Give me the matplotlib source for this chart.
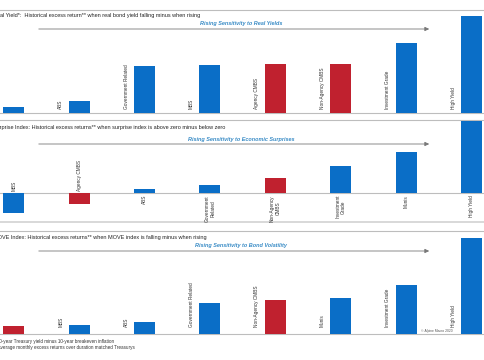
import matplotlib
matplotlib.use('Agg')
import matplotlib.pyplot as plt

W, H = 485, 360

# ── data ──────────────────────────────────────────────────────────────────────
real_cats = ['Munis', 'ABS', 'Government Related', 'MBS', 'Agency CMBS',
             'Non-Agency CMBS', 'Investment Grade', 'High Yield']
real_vals = [6, 12, 47, 48, 49, 49, 70, 97]

surp_cats = ['MBS', 'Agency CMBS', 'ABS', 'Government\nRelated',
             'Non-Agency\nCMBS', 'Investment\nGrade', 'Munis', 'High Yield']
surp_vals = [-20, -11, 4, 8, 15, 27, 41, 72]

move_cats = ['Agency CMBS', 'MBS', 'ABS', 'Government Related',
             'Non-Agency CMBS', 'Munis', 'Investment Grade', 'High Yield']
move_vals = [8, 9, 12, 31, 34, 36, 49, 96]

titles = [
    'Real Yield*:  Historical excess return** when real bond yield falling minus when rising',
    'Economic Surprise Index: Historical excess returns** when surprise index is above zero minus below zero',
    'MOVE Index: Historical excess returns** when MOVE index is falling minus when rising',
]
subtitles = [
    'Rising Sensitivity to Real Yields',
    'Rising Sensitivity to Economic Surprises',
    'Rising Sensitivity to Bond Volatility',
]
footnotes = [
    '*10-year Treasury yield minus 10-year breakeven inflation',
    '**Average monthly excess returns over duration matched Treasurys',
]

BLUE = '#0A6EC7'
RED = '#C0212F'
GRID = '#BDBDBD'
TXT = '#333333'
SUB = '#3A8CC6'

plt.rcParams['font.family'] = ['Liberation Sans', 'DejaVu Sans']


def fx(px):
    return px / W


def fy(py):
    return 1 - py / H


def bar_colors(cats):
    return [RED if 'CMBS' in c else BLUE for c in cats]


fig = plt.figure(figsize=(W / 100, H / 100), dpi=100)
fig.patch.set_facecolor('white')

x0, step = 13.7, 65.4
xlim = (-x0 / step, (W - x0) / step)

# (top px, bottom px, ylim)
panels = [
    (10, 113, (0, 103)),
    (120, 222, (-29, 73)),
    (231, 334, (0, 103)),
]
data = [(real_cats, real_vals), (surp_cats, surp_vals), (move_cats, move_vals)]

axes = []
for (top, bot, yl), (cats, vals) in zip(panels, data):
    ax = fig.add_axes([0, fy(bot), 1, (bot - top) / H])
    ax.set_xlim(*xlim)
    ax.set_ylim(*yl)
    ax.set_facecolor('none')
    xs = list(range(len(cats)))
    ax.bar(xs, vals, width=0.32, color=bar_colors(cats), zorder=3)
    for s in ['left', 'right']:
        ax.spines[s].set_visible(False)
    for s in ['top', 'bottom']:
        ax.spines[s].set_color(GRID)
        ax.spines[s].set_linewidth(0.8)
    ax.set_xticks([])
    ax.set_yticks([])
    axes.append(ax)

ax1, ax2, ax3 = axes
ax2.spines['bottom'].set_color('#D8D8D8')
ax2.spines['bottom'].set_linewidth(1.4)

# category labels, left of the bars
for ax, (cats, vals), pad in [(ax1, data[0], 4), (ax3, data[2], 7)]:
    for i, c in enumerate(cats):
        ax.text(i - 0.28, pad, c, rotation=90, ha='center', va='bottom',
                fontsize=3.4, color=TXT, zorder=4)

# surprise panel: labels on the opposite side of zero
ax2.axhline(0, color=GRID, linewidth=0.8, zorder=2)
for i, (c, v) in enumerate(zip(surp_cats, surp_vals)):
    if v < 0:
        ax2.text(i, 2, c, rotation=90, ha='center', va='bottom',
                 fontsize=3.4, color=TXT, multialignment='center')
    else:
        ax2.text(i, -2, c, rotation=90, ha='center', va='top',
                 fontsize=3.4, color=TXT, multialignment='center')

# titles, subtitles, arrows
title_pos = [(200, 16), (225, 127), (207, 237)]
sub_y = [24, 139, 246]
arrow_y = [29, 144, 251]
for t, (tx, ty), s, sy, ay in zip(titles, title_pos, subtitles, sub_y, arrow_y):
    fig.text(fx(tx), fy(ty), t, ha='right', va='center', fontsize=4.0,
             color='#222222')
    fig.text(fx(241), fy(sy), s, ha='center', va='center', fontsize=4.0,
             color=SUB, style='italic', fontweight='bold')
    fig.add_artist(matplotlib.patches.FancyArrowPatch(
        (fx(36), fy(ay)), (fx(432), fy(ay)), transform=fig.transFigure,
        arrowstyle='-|>,head_length=2.5,head_width=1.2', color='#777777',
        linewidth=0.6))

fig.text(fx(437), fy(331), '\u00a9 Alpine Macro 2020', ha='center',
         va='center', fontsize=2.4, color='#555555')

fig.text(fx(114), fy(341), footnotes[0], ha='right', va='center',
         fontsize=3.3, color=TXT)
fig.text(fx(135), fy(347), footnotes[1], ha='right', va='center',
         fontsize=3.3, color=TXT)

fig.savefig('out.png', dpi=100, facecolor='white')
